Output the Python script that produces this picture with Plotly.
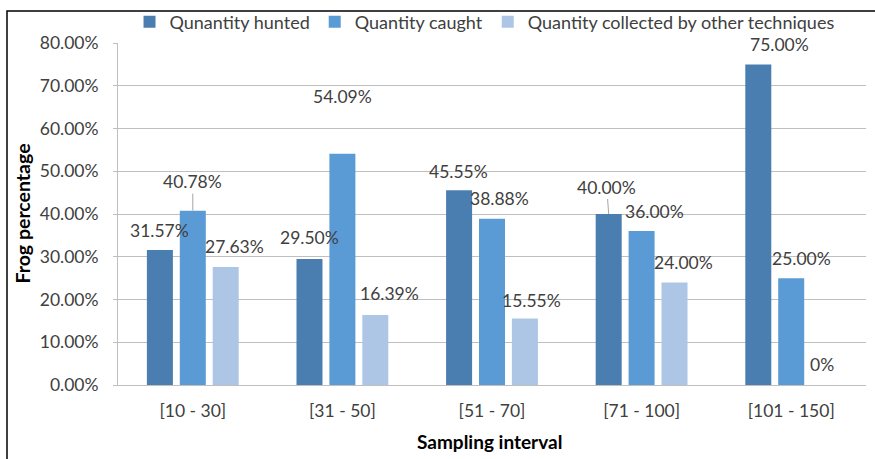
import plotly.graph_objects as go

# Sampling intervals (frog size classes) and share of frogs per technique
categories = ["[10 - 30]", "[31 - 50]", "[51 - 70]", "[71 - 100]", "[101 - 150]"]
hunted = [31.57, 29.50, 45.55, 40.00, 75.00]
caught = [40.78, 54.09, 38.88, 36.00, 25.00]
other = [27.63, 16.39, 15.55, 24.00, 0.00]

series_names = ["Qunantity hunted", "Quantity caught", "Quantity collected by other techniques"]
y_ticks = [0, 10, 20, 30, 40, 50, 60, 70, 80]

colors = ["#4A7EB1", "#5B9BD5", "#ADC6E6"]
FONT = "Lato, Liberation Sans, sans-serif"
TEXT = "#404040"
FS = 17.5

# label placement tweaks (px, screen direction: +dx right, +dy down) from each bar top
label_dx = [[0, 0, -1, -2, 21], [0, 0, 7, 13, 10], [9, 14, 7, 9, -2]]
label_dy = [[-20, -21, -19, -27, -20], [-29, -57, -20, -20, -20], [-20, -21, -18, -20, -21]]
leader = [[False, False, False, True, False], [True, False, False, False, False], [False] * 5]

BARGAP = 0.34
xpos = list(range(len(categories)))
slot = (1 - BARGAP) / 3


def fmt(v):
    return "0%" if v == 0 else f"{v:.2f}%"


fig = go.Figure()
for name, vals, col in zip(series_names, [hunted, caught, other], colors):
    fig.add_trace(go.Bar(x=xpos, y=vals, name=name, marker=dict(color=col, line=dict(width=0))))

annotations = []
for s, vals in enumerate([hunted, caught, other]):
    for i, v in enumerate(vals):
        bx = xpos[i] + (s - 1) * slot
        if leader[s][i]:
            annotations.append(dict(
                x=bx, y=v, xref="x", yref="y", text=fmt(v), showarrow=True,
                arrowhead=0, arrowwidth=1, arrowcolor="#A6A6A6",
                ax=label_dx[s][i], ay=label_dy[s][i], standoff=0,
                font=dict(family=FONT, size=FS, color=TEXT)))
        else:
            annotations.append(dict(
                x=bx, y=v, xref="x", yref="y", text=fmt(v), showarrow=False,
                xanchor="center", yanchor="middle",
                xshift=label_dx[s][i], yshift=-label_dy[s][i],
                font=dict(family=FONT, size=FS, color=TEXT)))

# axis titles
annotations.append(dict(text="<b>Frog percentage</b>", x=-0.129, y=0.5, xref="paper", yref="paper",
                         textangle=-90, showarrow=False, xanchor="center", yanchor="middle",
                         font=dict(family=FONT, size=19.5, color="#000000")))
annotations.append(dict(text="<b>Sampling interval</b>", x=0.497, y=-0.164, xref="paper", yref="paper",
                         showarrow=False, xanchor="center", yanchor="middle",
                         font=dict(family=FONT, size=19, color="#000000")))

fig.update_layout(
    width=875, height=459,
    margin=dict(l=118, r=9, t=43, b=74, autoexpand=False),
    paper_bgcolor="white", plot_bgcolor="white",
    barmode="group", bargap=BARGAP, bargroupgap=0.21,
    font=dict(family=FONT, size=FS, color=TEXT),
    showlegend=True,
    legend=dict(orientation="h", x=0.49, y=1.061, xanchor="center", yanchor="middle",
                font=dict(family=FONT, size=18, color=TEXT), itemclick=False,
                bgcolor="rgba(0,0,0,0)", tracegroupgap=0),
    annotations=annotations,
    shapes=[dict(type="rect", xref="paper", yref="paper", x0=-0.1484, x1=1.5, y0=-1.0, y1=1.0936,
                 line=dict(color="#000000", width=1.5), fillcolor="rgba(0,0,0,0)", layer="below")],
)
fig.update_xaxes(range=[-0.5, 4.5], tickvals=xpos, ticktext=categories, showgrid=False,
                 showline=True, linecolor="#BFBFBF", linewidth=1, ticks="", zeroline=False,
                 tickfont=dict(family=FONT, size=FS, color=TEXT), ticklabelstandoff=10)
fig.update_yaxes(range=[0, 80], tickvals=y_ticks, ticktext=[f"{t:.2f}%" for t in y_ticks],
                 showgrid=True, gridcolor="#BFBFBF", gridwidth=1, showline=True, linecolor="#BFBFBF",
                 ticks="outside", ticklen=4, tickcolor="#BFBFBF", zeroline=False,
                 tickfont=dict(family=FONT, size=FS, color=TEXT), ticklabelstandoff=11)

fig.write_html("out.html")
